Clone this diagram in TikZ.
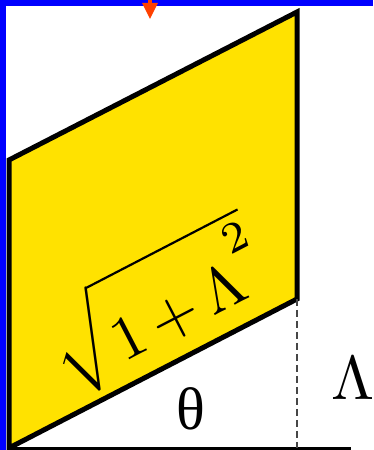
\documentclass[tikz,border=0pt]{standalone}
\usepackage{graphicx}
\usepackage[no-math]{fontspec}
\newfontfamily\thetafont{Liberation Serif}
\definecolor{pyellow}{RGB}{255,226,0}
\definecolor{pblue}{RGB}{0,0,255}
\definecolor{pred}{RGB}{255,64,0}
\definecolor{pdash}{RGB}{70,70,70}
\newcommand\myrootbody{1\mkern3mu{+}\mkern3mu\Lambda^{\raisebox{0.38em}{$\scriptstyle 2$}}}
\tikzset{
  edgeline/.style={line width=5pt, line join=miter},
  bigtext/.style={inner sep=0pt},
}
\begin{document}
\begin{tikzpicture}[x=1pt,y=1pt]
\useasboundingbox (0,0) rectangle (373,450);
\coordinate (A) at (9,2);
\coordinate (B) at (297,151);
\coordinate (C) at (297,438);
\coordinate (D) at (9,290);
\coordinate (E) at (351,1.5);
\coordinate (F) at (297,2);
\coordinate (A0) at (9,1.5);
\fill[pyellow] (A) -- (B) -- (C) -- (D) -- cycle;
\node[bigtext, rotate=27.4] (root) at (156,145)
  {\scalebox{6.2}[5.5]{$\sqrt{\hphantom{\myrootbody}\rule{0pt}{1.2em}}$}\llap{\scalebox{6.2}{$\myrootbody$}}};
\draw[edgeline] (A) -- (B) -- (C) -- (D) -- cycle;
\draw[line width=2.5pt] (A0) -- (E);
\draw[pdash, line width=1.5pt, dash pattern=on 7pt off 4pt] (B) -- (F);
\node[bigtext] (theta) at (191,41) {\fontsize{60}{60}\selectfont\thetafont θ};
\node[bigtext] (lam) at (353,72) {\scalebox{6.2}{$\Lambda$}};
\fill[pblue] (0,0) rectangle (6,450);
\fill[pblue] (0,444) rectangle (373,450);
\fill[pred] (148,444) rectangle (152,450);
\fill[pred] (142,447) -- (158,447) -- (150,431) -- cycle;
\end{tikzpicture}
\end{document}
